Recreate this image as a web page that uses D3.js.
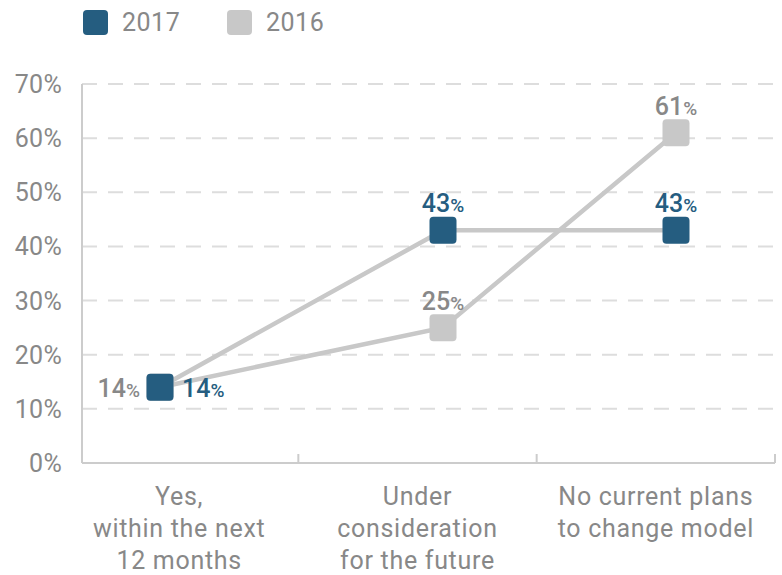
<!DOCTYPE html>
<html lang="en">
<head>
<meta charset="UTF-8">
<title>Chart</title>
<style>
  body { margin: 0; background: #fff; }
  text { font-family: Roboto, "DejaVu Sans", sans-serif; }
</style>
</head>
<body>
<svg id="chart"></svg>
<script src="https://cdn.jsdelivr.net/npm/d3@7"></script>
<script>
const categories = [
  ['Yes,', 'within the next', '12 months'],
  ['Under', 'consideration', 'for the future'],
  ['No current plans', 'to change model']
];
const years = ['2017', '2016'];
const values2017 = [14, 43, 43];
const values2016 = [14, 25, 61];
const yTicks = [0, 10, 20, 30, 40, 50, 60, 70];

const W = 782, H = 575;
const colors = { '2017': '#255d80', '2016': '#c8c8c8' };
const labelColors = { '2017': '#255d80', '2016': '#888888' };

const svg = d3.select('#chart').attr('width', W).attr('height', H);

const mLeft = 82, mRight = 775, mTop = 84, mBottom = 463;

const y = d3.scaleLinear().domain([0, 70]).range([mBottom, mTop]);
// category bands start a little left of the axis in the original
const xBand = d3.scaleBand().domain(d3.range(categories.length)).range([60, mRight]);
// marker positions in the original are not centred in their bands
const x = d3.scaleLinear().domain([0, 1, 2]).range([160, 443, 676]);

// grid
svg.append('g').selectAll('line')
  .data(yTicks.filter(d => d > 0))
  .join('line')
  .attr('x1', mLeft).attr('x2', W)
  .attr('y1', d => y(d)).attr('y2', d => y(d))
  .attr('stroke', '#dddddd').attr('stroke-width', 2)
  .attr('stroke-dasharray', '15,11');

// y labels
svg.append('g').selectAll('text')
  .data(yTicks)
  .join('text')
  .attr('x', 62).attr('y', d => y(d) + 9)
  .attr('text-anchor', 'end')
  .attr('fill', '#888').attr('font-size', 25)
  .attr('letter-spacing', 0.3)
  .text(d => d + '%');

// axes lines
svg.append('line').attr('x1', mLeft).attr('x2', mLeft).attr('y1', mTop).attr('y2', mBottom)
  .attr('stroke', '#cccccc').attr('stroke-width', 2);
svg.append('line').attr('x1', mLeft).attr('x2', mRight).attr('y1', mBottom).attr('y2', mBottom)
  .attr('stroke', '#cccccc').attr('stroke-width', 2);
svg.append('g').selectAll('line')
  .data(d3.range(1, categories.length + 1))
  .join('line')
  .attr('x1', d => d < categories.length ? xBand(d) : mRight)
  .attr('x2', d => d < categories.length ? xBand(d) : mRight)
  .attr('y1', mBottom).attr('y2', mBottom - 9)
  .attr('stroke', '#cccccc').attr('stroke-width', 2);

// x labels
const xl = svg.append('g').selectAll('text')
  .data(categories)
  .join('text')
  .attr('text-anchor', 'middle')
  .attr('fill', '#888').attr('font-size', 25)
  .attr('letter-spacing', 0.7);
xl.each(function (lines, i) {
  d3.select(this).selectAll('tspan')
    .data(lines)
    .join('tspan')
    .attr('x', xBand(i) + xBand.bandwidth() / 2)
    .attr('y', (d, j) => 505 + j * 32)
    .text(d => d);
});

const series = [
  { year: '2016', values: values2016 },
  { year: '2017', values: values2017 }
];

const line = d3.line().x((d, i) => x(i)).y(d => y(d));

svg.append('g').selectAll('path')
  .data(series)
  .join('path')
  .attr('d', s => line(s.values))
  .attr('fill', 'none')
  .attr('stroke', '#c8c8c8').attr('stroke-width', 4.5);

const size = 27;
series.forEach(s => {
  svg.append('g').selectAll('rect')
    .data(s.values)
    .join('rect')
    .attr('x', (d, i) => x(i) - size / 2)
    .attr('y', d => y(d) - size / 2)
    .attr('width', size).attr('height', size)
    .attr('rx', 4)
    .attr('fill', colors[s.year]);
});

// value labels
function label(year, i, v, pos) {
  let tx = x(i), ty = y(v) - 18, anchor = 'middle';
  if (pos === 'right') { tx = x(i) + 22; ty = y(v) + 10; anchor = 'start'; }
  if (pos === 'left') { tx = x(i) - 20; ty = y(v) + 10; anchor = 'end'; }
  const t = svg.append('text')
    .attr('x', tx).attr('y', ty)
    .attr('text-anchor', anchor)
    .attr('fill', labelColors[year])
    .attr('font-size', 25).attr('font-weight', 500);
  t.append('tspan').text(v);
  t.append('tspan').attr('font-size', 19).text('%');
}
values2016.forEach((v, i) => label('2016', i, v, i === 0 ? 'left' : 'top'));
values2017.forEach((v, i) => label('2017', i, v, i === 0 ? 'right' : 'top'));

// legend
const lg = svg.append('g').selectAll('g')
  .data(years)
  .join('g')
  .attr('transform', (d, i) => `translate(${83 + i * 144},10)`);
lg.append('rect').attr('width', 25).attr('height', 25).attr('rx', 4)
  .attr('fill', d => colors[d]);
lg.append('text').attr('x', 39).attr('y', 21)
  .attr('fill', '#888').attr('font-size', 25)
  .attr('letter-spacing', 0.5)
  .text(d => d);
</script>
</body>
</html>
